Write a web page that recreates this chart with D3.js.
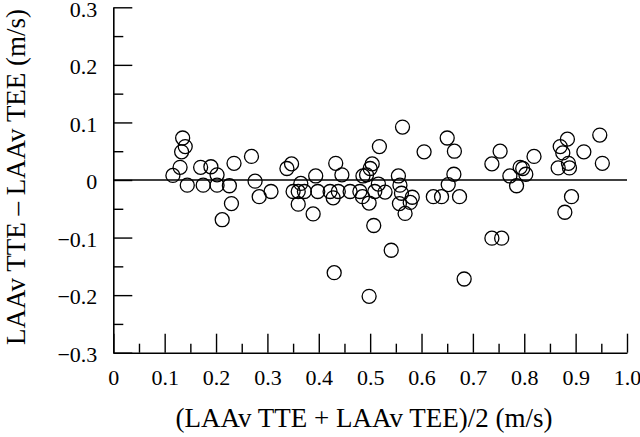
<!DOCTYPE html>
<html>
<head>
<meta charset="utf-8">
<script src="https://cdn.jsdelivr.net/npm/d3@7"></script>
<style>
  html, body { margin: 0; padding: 0; background: #fff; }
  svg { display: block; }
  svg text { font-family: "Liberation Serif", "DejaVu Serif", serif !important; fill: #000; }
</style>
</head>
<body>
<svg id="chart" width="640" height="437"></svg>
<script>
// Mean of the two methods (m/s)
const meanVals = [
  0.135, 0.140, 0.133, 0.130, 0.116, 0.144, 0.170, 0.190, 0.202, 0.175,
  0.202, 0.226, 0.235, 0.269, 0.276, 0.230, 0.284, 0.307, 0.212, 0.338,
  0.347, 0.394, 0.433, 0.445, 0.350, 0.360, 0.372, 0.365, 0.360, 0.389,
  0.398, 0.422, 0.428, 0.438, 0.461, 0.480, 0.485, 0.498, 0.504, 0.500,
  0.493, 0.486, 0.563, 0.518, 0.605, 0.650, 0.664, 0.555, 0.558, 0.516,
  0.509, 0.529, 0.561, 0.582, 0.578, 0.557, 0.568, 0.623, 0.639, 0.652,
  0.663, 0.674, 0.507, 0.541, 0.683, 0.737, 0.756, 0.498, 0.430, 0.753,
  0.737, 0.819, 0.772, 0.792, 0.797, 0.803, 0.785, 0.884, 0.870, 0.875,
  0.916, 0.866, 0.886, 0.888, 0.947, 0.952, 0.892, 0.879
];
// Difference TTE - TEE (m/s)
const diffVals = [
  0.073, 0.058, 0.049, 0.022, 0.008, -0.009, 0.022, 0.023, 0.009, -0.009,
  -0.009, -0.010, 0.029, 0.041, -0.002, -0.041, -0.029, -0.020, -0.069, 0.020,
  0.028, 0.007, 0.029, 0.009, -0.020, -0.020, -0.020, -0.006, -0.042, -0.059,
  -0.020, -0.020, -0.031, -0.020, -0.020, -0.020, -0.029, -0.040, 0.028, 0.020,
  0.009, 0.007, 0.092, 0.058, 0.049, 0.073, 0.050, 0.007, -0.009, -0.007,
  -0.020, -0.021, -0.023, -0.030, -0.039, -0.041, -0.058, -0.029, -0.029, -0.008,
  0.010, -0.029, -0.079, -0.122, -0.172, -0.101, -0.101, -0.202, -0.161, 0.050,
  0.028, 0.041, 0.007, 0.022, 0.020, 0.010, -0.010, 0.071, 0.058, 0.047,
  0.049, 0.021, 0.029, 0.021, 0.078, 0.029, -0.029, -0.056
];
const xTicks = [0, 0.1, 0.2, 0.3, 0.4, 0.5, 0.6, 0.7, 0.8, 0.9, 1.0];
const xTickLabels = ["0", "0.1", "0.2", "0.3", "0.4", "0.5", "0.6", "0.7", "0.8", "0.9", "1.0"];
const xMinorTicks = [0.05, 0.15, 0.25, 0.35, 0.45, 0.55, 0.65, 0.75, 0.85, 0.95];
const yTicks = [0.3, 0.2, 0.1, 0, -0.1, -0.2, -0.3];
const yTickLabels = ["0.3", "0.2", "0.1", "0", "\u22120.1", "\u22120.2", "\u22120.3"];
const yMinorTicks = [0.25, 0.15, 0.05, -0.05, -0.15, -0.25];
const xTitle = "(LAAv TTE + LAAv TEE)/2 (m/s)";
const yTitle = "LAAv TTE \u2013 LAAv TEE (m/s)";

(function () {
const svg = d3.select("#chart");
const pLeft = 113.3, pRight = 627, pTop = 7.3, pBottom = 352.7;
const x = d3.scaleLinear().domain([0, 1]).range([pLeft, pRight]);
const y = d3.scaleLinear().domain([-0.3, 0.3]).range([pBottom, pTop]);
const serif = '"Liberation Serif", "DejaVu Serif", serif';

function styleAxis(g) {
  g.attr("font-family", null).attr("font-size", null);
  g.selectAll("path.domain").attr("stroke", "#000").attr("stroke-width", 1.6);
  g.selectAll(".tick line").attr("stroke", "#000").attr("stroke-width", 1.4);
  g.selectAll(".tick text")
    .style("font-family", serif).style("font-size", "22px").attr("fill", "#000");
}

// minor ticks
svg.append("g").attr("transform", `translate(${pLeft},0)`)
  .call(d3.axisLeft(y).tickValues(yMinorTicks).tickSize(-10).tickFormat(""))
  .call(g => { g.select(".domain").remove(); styleAxis(g); });
svg.append("g").attr("transform", `translate(0,${pBottom})`)
  .call(d3.axisBottom(x).tickValues(xMinorTicks).tickSize(-9).tickFormat(""))
  .call(g => { g.select(".domain").remove(); styleAxis(g); });

// major axes
svg.append("g").attr("transform", `translate(${pLeft},0)`)
  .call(d3.axisLeft(y).tickValues(yTicks).tickSize(-19).tickSizeOuter(0).tickPadding(16)
        .tickFormat((d, i) => yTickLabels[i]))
  .call(styleAxis)
  .call(g => g.selectAll(".tick text").attr("dy", "0.4em"));
svg.append("g").attr("transform", `translate(0,${pBottom})`)
  .call(d3.axisBottom(x).tickValues(xTicks).tickSize(-19).tickSizeOuter(0).tickPadding(17)
        .tickFormat((d, i) => xTickLabels[i]))
  .call(styleAxis);

// zero reference line
svg.append("line")
  .attr("x1", x(0)).attr("x2", x(1))
  .attr("y1", y(0)).attr("y2", y(0))
  .attr("stroke", "#000").attr("stroke-width", 1.3);

// points
const pts = meanVals.map((m, i) => ({ m, d: diffVals[i] }));
svg.append("g").selectAll("circle").data(pts).join("circle")
  .attr("cx", p => x(p.m)).attr("cy", p => y(p.d)).attr("r", 7)
  .attr("fill", "none").attr("stroke", "#000").attr("stroke-width", 1.3);

// titles
svg.append("text")
  .attr("x", 364).attr("y", 427)
  .attr("text-anchor", "middle")
  .style("font-family", serif).style("font-size", "27px")
  .text(xTitle);
svg.append("text")
  .attr("transform", "translate(25,177) rotate(-90)")
  .attr("text-anchor", "middle")
  .style("font-family", serif).style("font-size", "27px")
  .text(yTitle);
})();
</script>
</body>
</html>
